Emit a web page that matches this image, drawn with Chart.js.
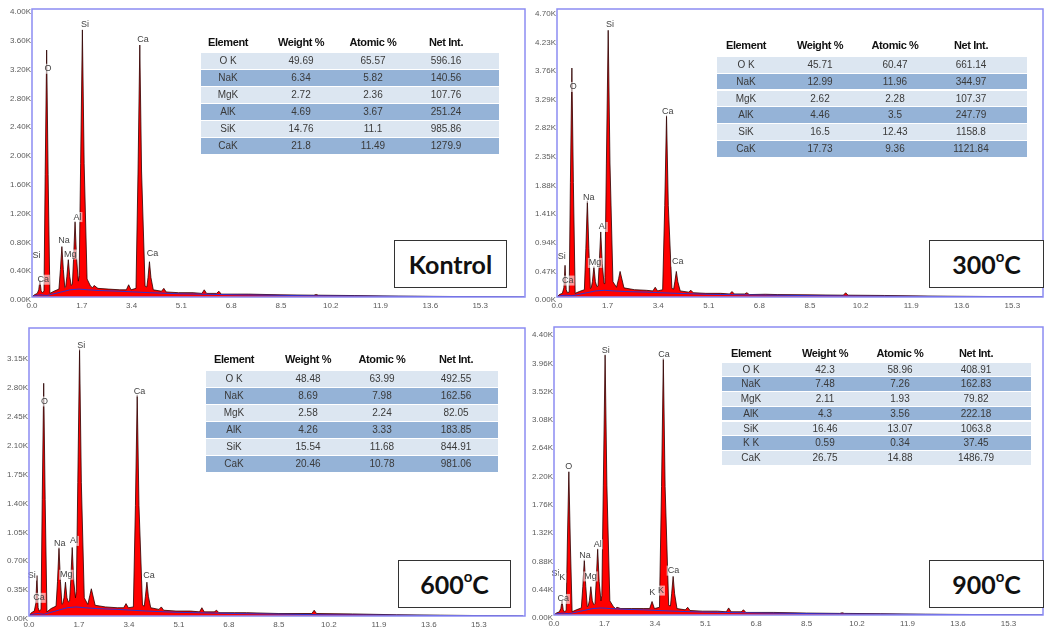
<!DOCTYPE html>
<html>
<head>
<meta charset="utf-8">
<script src="https://cdn.jsdelivr.net/npm/chart.js@4.4.1/dist/chart.umd.min.js"></script>
<style>
  body { margin: 0; background: #fff; }
  #wrap { position: relative; width: 1044px; height: 628px; overflow: hidden; font-family: "Liberation Sans", Arial, sans-serif; }
  canvas { position: absolute; }
  .tbl { position: absolute; }
  .row { position: absolute; left: 0; right: 0; }
  .cell { position: absolute; transform: translateX(-50%); white-space: nowrap; color: #3a3a3a; font-size: 10px; }
  .head { font-weight: bold; font-size: 11px; letter-spacing: -0.4px; color: #111; }
  .tag { position: absolute; border: 1.5px solid #333; background: #fff; box-sizing: border-box;
         display: flex; align-items: center; justify-content: center;
         font-family: Lato, sans-serif; font-weight: bold; font-size: 25px; color: #111; }
  .tag sup { font-size: 15px; vertical-align: 0; position: relative; top: -8px; }
</style>
</head>
<body>
<div id="wrap">
  <canvas id="kontrol" width="530" height="314" style="left:0;top:0"></canvas>
  <canvas id="c300" width="517" height="314" style="left:527px;top:0"></canvas>
  <canvas id="c600" width="530" height="312" style="left:0;top:316px"></canvas>
  <canvas id="c900" width="517" height="312" style="left:527px;top:316px"></canvas>
</div>
<script>
// energy grid (keV), shared by the four spectra
const energy = [0.00, 0.08, 0.18, 0.23, 0.27, 0.31, 0.35, 0.41, 0.45, 0.50,
  0.55, 0.61, 0.75, 0.92, 0.97, 1.02, 1.07, 1.12, 1.15, 1.19,
  1.24, 1.29, 1.34, 1.38, 1.42, 1.47, 1.52, 1.58, 1.61, 1.66,
  1.72, 1.78, 1.88, 2.00, 2.07, 2.12, 2.25, 2.60, 3.00, 3.22,
  3.30, 3.38, 3.55, 3.62, 3.68, 3.74, 3.86, 3.92, 3.96, 4.01,
  4.06, 4.14, 4.42, 4.50, 4.58, 5.00, 5.50, 5.80, 5.88, 5.96,
  6.30, 6.38, 6.46, 7.00, 7.40, 8.50, 9.62, 9.70, 9.78, 11.00,
  12.50, 14.00, 16.80];

// counts in K
const kontrolCounts = [0.00, 0.03, 0.05, 0.10, 0.23, 0.09, 0.06, 0.08, 1.70, 3.43,
  1.70, 0.05, 0.08, 0.11, 0.38, 0.70, 0.38, 0.13, 0.14, 0.28,
  0.52, 0.28, 0.16, 0.18, 0.55, 1.05, 0.55, 0.22, 0.30, 1.85,
  3.71, 1.85, 0.25, 0.15, 0.13, 0.16, 0.12, 0.11, 0.10, 0.10,
  0.17, 0.10, 0.12, 1.75, 3.50, 1.75, 0.15, 0.14, 0.27, 0.49,
  0.27, 0.10, 0.08, 0.12, 0.07, 0.06, 0.06, 0.05, 0.10, 0.05,
  0.05, 0.08, 0.04, 0.04, 0.04, 0.03, 0.025, 0.035, 0.025, 0.02,
  0.012, 0.008, 0.00];
const c300Counts = [0.00, 0.04, 0.06, 0.15, 0.52, 0.12, 0.07, 0.08, 1.88, 3.76,
  1.88, 0.06, 0.09, 0.12, 0.80, 1.58, 0.80, 0.14, 0.15, 0.25,
  0.50, 0.25, 0.17, 0.18, 0.55, 1.07, 0.55, 0.22, 0.32, 2.20,
  4.38, 2.20, 0.25, 0.16, 0.30, 0.42, 0.15, 0.12, 0.11, 0.10,
  0.16, 0.10, 0.12, 1.50, 2.98, 1.50, 0.14, 0.13, 0.25, 0.42,
  0.25, 0.10, 0.08, 0.11, 0.07, 0.06, 0.06, 0.05, 0.09, 0.05,
  0.05, 0.07, 0.04, 0.045, 0.04, 0.035, 0.03, 0.07, 0.03, 0.025,
  0.015, 0.01, 0.00];
const c600Counts = [0.00, 0.04, 0.06, 0.15, 0.49, 0.10, 0.06, 0.08, 1.41, 2.82,
  1.41, 0.05, 0.09, 0.12, 0.42, 0.83, 0.42, 0.14, 0.15, 0.22,
  0.41, 0.22, 0.17, 0.18, 0.43, 0.83, 0.43, 0.22, 0.30, 1.62,
  3.24, 1.62, 0.22, 0.14, 0.25, 0.33, 0.13, 0.11, 0.10, 0.10,
  0.15, 0.10, 0.11, 1.34, 2.68, 1.34, 0.13, 0.12, 0.24, 0.41,
  0.24, 0.10, 0.08, 0.11, 0.07, 0.06, 0.06, 0.05, 0.10, 0.05,
  0.05, 0.07, 0.04, 0.04, 0.04, 0.03, 0.03, 0.07, 0.03, 0.025,
  0.015, 0.01, 0.00];
const c900Counts = [0.00, 0.03, 0.05, 0.10, 0.22, 0.08, 0.05, 0.07, 1.12, 2.23,
  1.12, 0.05, 0.08, 0.11, 0.44, 0.86, 0.44, 0.13, 0.14, 0.22,
  0.44, 0.22, 0.16, 0.18, 0.52, 1.03, 0.52, 0.22, 0.30, 2.02,
  4.05, 2.02, 0.22, 0.13, 0.10, 0.12, 0.10, 0.10, 0.10, 0.10,
  0.21, 0.10, 0.12, 2.00, 3.99, 2.00, 0.15, 0.14, 0.33, 0.60,
  0.33, 0.10, 0.08, 0.12, 0.07, 0.06, 0.06, 0.05, 0.11, 0.05,
  0.05, 0.08, 0.04, 0.04, 0.04, 0.03, 0.025, 0.035, 0.025, 0.02,
  0.012, 0.008, 0.00];

// background (blue) curve
const continuumEnergy = [0, 0.1, 0.3, 0.5, 0.7, 1.0, 1.3, 1.6, 1.9, 2.3, 3.0, 4.0, 5.0, 7.0, 10.0, 16.8];
const continuumCounts = [0, 0.02, 0.03, 0.02, 0.04, 0.07, 0.10, 0.11, 0.10, 0.09, 0.08, 0.06, 0.045, 0.03, 0.015, 0];

// ticks
const xTicks = [0, 1.7, 3.4, 5.1, 6.8, 8.5, 10.2, 11.9, 13.6, 15.3];
const kontrolYTicks = [0, 0.40, 0.80, 1.20, 1.60, 2.00, 2.40, 2.80, 3.20, 3.60, 4.00];
const c300YTicks = [0, 0.47, 0.94, 1.41, 1.88, 2.35, 2.82, 3.29, 3.76, 4.23, 4.70];
const c600YTicks = [0, 0.35, 0.70, 1.05, 1.40, 1.75, 2.10, 2.45, 2.80, 3.15];
const c900YTicks = [0, 0.44, 0.88, 1.32, 1.76, 2.20, 2.64, 3.08, 3.52, 3.96, 4.40];

// peak labels
const kontrolPeakNames = ['Si', 'Ca', 'O', 'Na', 'Mg', 'Al', 'Si', 'Ca', 'Ca'];
const kontrolPeakE = [0.15, 0.38, 0.55, 1.09, 1.31, 1.55, 1.81, 3.79, 4.11];
const kontrolPeakK = [0.57, 0.24, 3.17, 0.79, 0.59, 1.11, 3.79, 3.57, 0.60];
const c300PeakNames = ['Si', 'Ca', 'O', 'Na', 'Mg', 'Al', 'Si', 'Ca', 'Ca'];
const c300PeakE = [0.16, 0.36, 0.55, 1.07, 1.28, 1.54, 1.78, 3.72, 4.06];
const c300PeakK = [0.67, 0.27, 3.45, 1.63, 0.56, 1.15, 4.47, 3.05, 0.58];
const c600PeakNames = ['Si', 'Ca', 'O', 'Na', 'Mg', 'Al', 'Si', 'Ca', 'Ca'];
const c600PeakE = [0.09, 0.34, 0.53, 1.05, 1.27, 1.53, 1.78, 3.76, 4.08];
const c600PeakK = [0.49, 0.22, 2.60, 0.88, 0.50, 0.91, 3.28, 2.72, 0.49];
const c900PeakNames = ['Si', 'K', 'Ca', 'O', 'Na', 'Mg', 'Al', 'Si', 'K', 'K', 'Ca', 'Ca'];
const c900PeakE = [0.05, 0.28, 0.31, 0.50, 1.04, 1.23, 1.47, 1.74, 3.31, 3.60, 3.70, 4.02];
const c900PeakK = [0.65, 0.58, 0.25, 2.31, 0.92, 0.60, 1.10, 4.12, 0.35, 0.38, 4.05, 0.69];

// composition tables
const tableHeader = ['Element', 'Weight %', 'Atomic %', 'Net Int.'];
const kontrolTable = [
  ['O K', '49.69', '65.57', '596.16'],
  ['NaK', '6.34', '5.82', '140.56'],
  ['MgK', '2.72', '2.36', '107.76'],
  ['AlK', '4.69', '3.67', '251.24'],
  ['SiK', '14.76', '11.1', '985.86'],
  ['CaK', '21.8', '11.49', '1279.9']
];
const c300Table = [
  ['O K', '45.71', '60.47', '661.14'],
  ['NaK', '12.99', '11.96', '344.97'],
  ['MgK', '2.62', '2.28', '107.37'],
  ['AlK', '4.46', '3.5', '247.79'],
  ['SiK', '16.5', '12.43', '1158.8'],
  ['CaK', '17.73', '9.36', '1121.84']
];
const c600Table = [
  ['O K', '48.48', '63.99', '492.55'],
  ['NaK', '8.69', '7.98', '162.56'],
  ['MgK', '2.58', '2.24', '82.05'],
  ['AlK', '4.26', '3.33', '183.85'],
  ['SiK', '15.54', '11.68', '844.91'],
  ['CaK', '20.46', '10.78', '981.06']
];
const c900Table = [
  ['O K', '42.3', '58.96', '408.91'],
  ['NaK', '7.48', '7.26', '162.83'],
  ['MgK', '2.11', '1.93', '79.82'],
  ['AlK', '4.3', '3.56', '222.18'],
  ['SiK', '16.46', '13.07', '1063.8'],
  ['K K', '0.59', '0.34', '37.45'],
  ['CaK', '26.75', '14.88', '1486.79']
];

const tickFont = { size: 8, family: 'Liberation Sans' };

function makeSpectrum(id, counts, yTicks, yMax, xMax, names, peakE, peakK, yWidth, xHeight, padTop, padRight) {
  new Chart(document.getElementById(id), {
    type: 'line',
    data: {
      datasets: [{
        // fitted background
        data: continuumEnergy.map((e, i) => ({ x: e, y: continuumCounts[i] })),
        borderColor: '#3030d0',
        borderWidth: 1,
        pointRadius: 0,
        fill: false
      }, {
        data: energy.map((e, i) => ({ x: e, y: counts[i] })),
        borderColor: '#2a0000',
        borderWidth: 0.8,
        backgroundColor: '#ff0000',
        pointRadius: 0,
        fill: 'origin'
      }]
    },
    options: {
      responsive: false,
      animation: false,
      devicePixelRatio: 1,
      layout: { padding: { top: padTop, right: padRight, left: 0, bottom: 0 } },
      plugins: { legend: { display: false }, tooltip: { enabled: false } },
      scales: {
        x: {
          type: 'linear', min: 0, max: xMax,
          grid: { display: false, drawTicks: false },
          border: { display: false },
          afterBuildTicks: s => { s.ticks = xTicks.map(v => ({ value: v })); },
          afterFit: s => { s.height = xHeight; },
          ticks: { callback: v => v.toFixed(1), font: tickFont, color: '#5a5a5a', padding: 4, maxRotation: 0, autoSkip: false }
        },
        y: {
          min: 0, max: yMax,
          grid: { display: false, drawTicks: false },
          border: { display: false },
          afterBuildTicks: s => { s.ticks = yTicks.map(v => ({ value: v })); },
          afterFit: s => { s.width = yWidth; },
          ticks: { callback: v => v.toFixed(2) + 'K', font: tickFont, color: '#5a5a5a', padding: 1, labelOffset: 3, autoSkip: false }
        }
      }
    },
    plugins: [{
      id: 'peakLabels',
      afterDatasetsDraw(chart) {
        const ctx = chart.ctx;
        ctx.save();
        ctx.font = '9px "Liberation Sans"';
        ctx.textAlign = 'center';
        ctx.textBaseline = 'middle';
        names.forEach((n, i) => {
          const x = chart.scales.x.getPixelForValue(peakE[i]);
          const y = chart.scales.y.getPixelForValue(peakK[i]);
          const w = ctx.measureText(n).width + 2;
          ctx.fillStyle = 'rgba(255,255,255,0.6)';
          ctx.fillRect(x - w / 2, y - 5, w, 10);
          ctx.fillStyle = '#444';
          ctx.fillText(n, x, y);
        });
        ctx.restore();
      }
    }, {
      id: 'frame',
      afterDraw(chart) {
        const a = chart.chartArea;
        const ctx = chart.ctx;
        ctx.save();
        ctx.strokeStyle = '#8c8cf2';
        ctx.lineWidth = 1.5;
        ctx.strokeRect(a.left, a.top, a.right - a.left, a.bottom - a.top);
        ctx.restore();
      }
    }]
  });
}

makeSpectrum('kontrol', kontrolCounts, kontrolYTicks, 4.0, 16.83, kontrolPeakNames, kontrolPeakE, kontrolPeakK, 32, 17, 9, 5);
makeSpectrum('c300', c300Counts, c300YTicks, 4.73, 16.33, c300PeakNames, c300PeakE, c300PeakK, 30, 17, 9, 1);
makeSpectrum('c600', c600Counts, c600YTicks, 3.49, 16.87, c600PeakNames, c600PeakE, c600PeakK, 29, 12, 12, 5);
makeSpectrum('c900', c900Counts, c900YTicks, 4.48, 16.46, c900PeakNames, c900PeakE, c900PeakK, 27, 13, 11, 1);

// tables
const wrap = document.getElementById('wrap');
function makeTable(rows, left, width, headerY, rowTop, rowH, centers) {
  const t = document.createElement('div');
  t.className = 'tbl';
  t.style.left = left + 'px';
  t.style.top = '0px';
  t.style.width = width + 'px';
  tableHeader.forEach((h, j) => {
    const c = document.createElement('div');
    c.className = 'cell head';
    c.textContent = h;
    c.style.left = centers[j] + 'px';
    c.style.top = (headerY - 7) + 'px';
    c.style.lineHeight = '14px';
    t.appendChild(c);
  });
  rows.forEach((r, i) => {
    const row = document.createElement('div');
    row.className = 'row';
    row.style.top = (rowTop + i * rowH) + 'px';
    row.style.height = (rowH - 1) + 'px';
    row.style.background = i % 2 === 0 ? '#dce6f1' : '#95b3d7';
    r.forEach((v, j) => {
      const c = document.createElement('div');
      c.className = 'cell';
      c.textContent = v;
      c.style.left = centers[j] + 'px';
      c.style.top = '0px';
      c.style.lineHeight = (rowH - 1) + 'px';
      row.appendChild(c);
    });
    t.appendChild(row);
  });
  wrap.appendChild(t);
}
makeTable(kontrolTable, 201, 298, 42, 53.3, 17, [27, 100, 172, 245]);
makeTable(c300Table, 717, 310, 45, 56.7, 16.9, [29, 103, 178, 254]);
makeTable(c600Table, 206, 292, 359.3, 371, 16.95, [28, 102, 176, 250]);
makeTable(c900Table, 722, 309, 352.7, 362.7, 14.7, [29, 103, 178, 254]);

// sample tags
function makeTag(html, left, top, w, h) {
  const d = document.createElement('div');
  d.className = 'tag';
  d.innerHTML = html;
  d.style.left = left + 'px';
  d.style.top = top + 'px';
  d.style.width = w + 'px';
  d.style.height = h + 'px';
  wrap.appendChild(d);
}
makeTag('Kontrol', 394, 240, 113, 48);
makeTag('300<sup>o</sup>C', 929, 240, 115, 48);
makeTag('600<sup>o</sup>C', 398, 560, 113, 48);
makeTag('900<sup>o</sup>C', 929, 560, 115, 48);
</script>
</body>
</html>
